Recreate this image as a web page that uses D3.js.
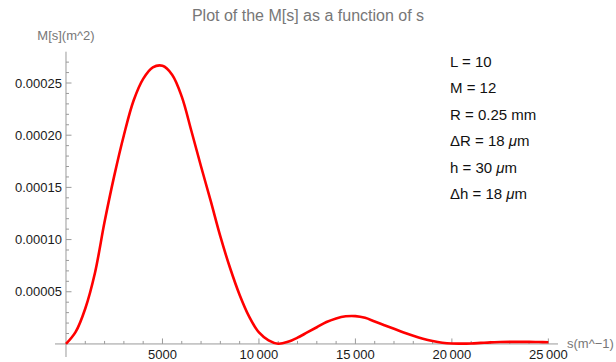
<!DOCTYPE html>
<html>
<head>
<meta charset="utf-8">
<script src="https://cdnjs.cloudflare.com/ajax/libs/d3/7.8.5/d3.min.js"></script>
<style>
  body { margin: 0; background: #fff; }
  svg { display: block; font-family: "Liberation Sans", Arial, sans-serif; }
</style>
</head>
<body>
<div id="chart"></div>
<script>
// s values (m^-1) sampled every 500
const sValues = d3.range(0, 25001, 500);
// M[s], in units of 1e-5 m^2
const mValues = [
  0, 1.15, 3.4, 6.8, 11.7, 16.1, 20.0, 23.3, 25.4, 26.5, 26.65,
  25.8, 23.7, 20.4, 17.0, 13.7, 10.3, 7.3, 4.7, 2.6, 1.1,
  0.35, 0.02, 0.2, 0.6, 1.1, 1.6, 2.1, 2.45, 2.65, 2.67,
  2.5, 2.15, 1.8, 1.45, 1.1, 0.78, 0.5, 0.28, 0.12, 0.04,
  0.03, 0.05, 0.1, 0.15, 0.18, 0.2, 0.2, 0.2, 0.18, 0.16
];
const xMajor = [5000, 10000, 15000, 20000, 25000];
const yMajor = [0.00005, 0.0001, 0.00015, 0.0002, 0.00025];
const params = [
  ["L = 10"], ["M = 12"], ["R = 0.25 mm"],
  ["\u0394R = 18 ", "\u03bc", "m"], ["h = 30 ", "\u03bc", "m"], ["\u0394h = 18 ", "\u03bc", "m"]
];

const data = sValues.map((s, i) => ({ s: s, m: mValues[i] * 1e-5 }));

const W = 616, H = 362;
const svg = d3.select('#chart').append('svg')
  .attr('width', W).attr('height', H);

const x = d3.scaleLinear().domain([-570, 25500]).range([55, 558]);
const y = d3.scaleLinear().domain([-0.0000125, 0.00028]).range([357, 51.7]);

const axisColor = '#9a9a9a';
const fmtX = d => d >= 10000 ? d3.format('d')(d).replace(/(\d{3})$/, '\u2009$1') : d3.format('d')(d);

// x axis line + ticks (inward / upward)
svg.append('line')
  .attr('x1', x.range()[0]).attr('x2', x.range()[1])
  .attr('y1', y(0)).attr('y2', y(0))
  .attr('stroke', axisColor).attr('stroke-width', 1);
svg.selectAll('.xminor').data(d3.range(1000, 25001, 1000).filter(d => d % 5000 !== 0))
  .enter().append('line')
  .attr('x1', d => x(d)).attr('x2', d => x(d))
  .attr('y1', y(0)).attr('y2', y(0) - 3)
  .attr('stroke', axisColor);
svg.selectAll('.xmajor').data(xMajor).enter().append('line')
  .attr('x1', d => x(d)).attr('x2', d => x(d))
  .attr('y1', y(0)).attr('y2', y(0) - 5.5)
  .attr('stroke', axisColor);
svg.selectAll('.xlab').data(xMajor).enter().append('text')
  .attr('x', d => x(d)).attr('y', y(0) + 15.5)
  .attr('text-anchor', 'middle')
  .attr('font-size', 13).attr('fill', '#1a1a1a')
  .text(fmtX);

// y axis line + ticks (pointing right)
svg.append('line')
  .attr('x1', x(0)).attr('x2', x(0))
  .attr('y1', y.range()[0]).attr('y2', y.range()[1])
  .attr('stroke', axisColor).attr('stroke-width', 1);
svg.selectAll('.yminor').data(d3.range(1, 28).map(d => d * 1e-5).filter((d, i) => (i + 1) % 5 !== 0))
  .enter().append('line')
  .attr('x1', x(0)).attr('x2', x(0) + 3)
  .attr('y1', d => y(d)).attr('y2', d => y(d))
  .attr('stroke', axisColor);
svg.selectAll('.ymajor').data(yMajor).enter().append('line')
  .attr('x1', x(0)).attr('x2', x(0) + 5.5)
  .attr('y1', d => y(d)).attr('y2', d => y(d))
  .attr('stroke', axisColor);
svg.selectAll('.ylab').data(yMajor).enter().append('text')
  .attr('x', x(0) - 4).attr('y', d => y(d) + 4.5)
  .attr('text-anchor', 'end')
  .attr('font-size', 13).attr('fill', '#1a1a1a')
  .text(d => d3.format('.5f')(d));

// axis labels + title
svg.append('text')
  .attr('x', x(0)).attr('y', 40)
  .attr('text-anchor', 'middle')
  .attr('font-size', 13).attr('fill', '#777')
  .text('M[s](m^2)');
svg.append('text')
  .attr('x', 567).attr('y', y(0) + 4.5)
  .attr('font-size', 13).attr('fill', '#777')
  .text('s(m^\u22121)');
svg.append('text')
  .attr('x', 308).attr('y', 21)
  .attr('text-anchor', 'middle')
  .attr('font-size', 16).attr('fill', '#777')
  .text('Plot of the M[s] as a function of s');

// curve
const line = d3.line()
  .x(d => x(d.s)).y(d => y(d.m))
  .curve(d3.curveCatmullRom.alpha(0.5));
svg.append('path')
  .datum(data)
  .attr('d', line)
  .attr('fill', 'none')
  .attr('stroke', '#ff0000')
  .attr('stroke-width', 2.6)
  .attr('stroke-linejoin', 'round');

// parameter block
const block = svg.append('g');
params.forEach((p, i) => {
  const t = block.append('text')
    .attr('x', 450).attr('y', 67 + i * 26.4)
    .attr('font-size', 15).attr('fill', '#111');
  t.append('tspan').text(p[0]);
  if (p.length > 1) {
    t.append('tspan').attr('font-style', 'italic').text(p[1]);
    t.append('tspan').text(p[2]);
  }
});
</script>
</body>
</html>
